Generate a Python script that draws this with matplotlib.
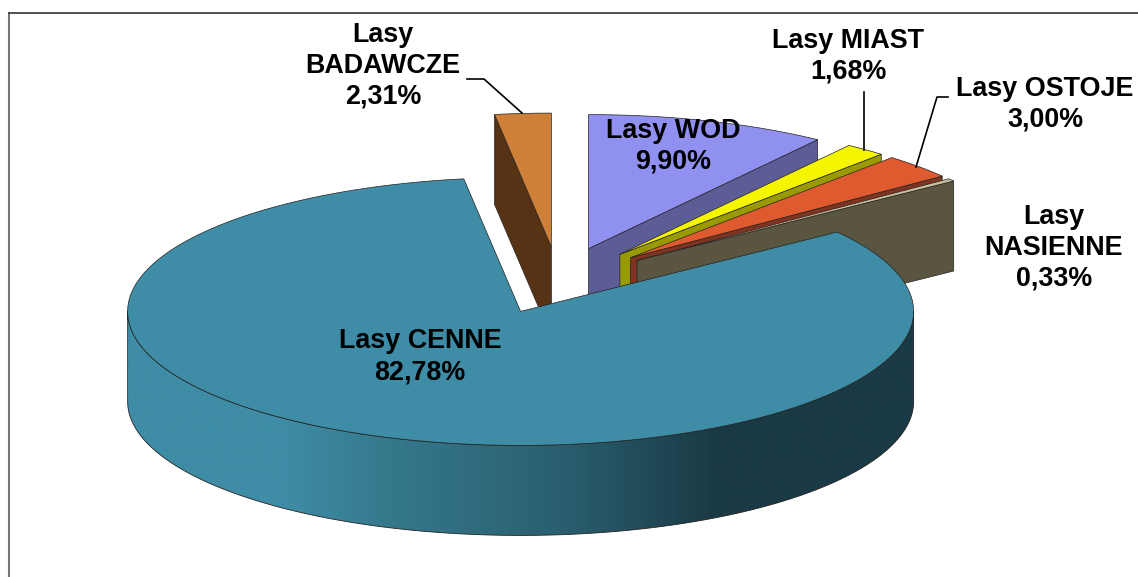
import numpy as np
import matplotlib
matplotlib.use('Agg')
import matplotlib.pyplot as plt
from matplotlib.colors import LinearSegmentedColormap
from matplotlib.patches import Polygon

# values, in drawing order (clockwise, big slice is painted last)
names = ['Lasy\nBADAWCZE', 'Lasy WOD', 'Lasy MIAST', 'Lasy OSTOJE', 'Lasy\nNASIENNE', 'Lasy CENNE']
values = [2.31, 9.90, 1.68, 3.00, 0.33, 82.78]
top_colors = ['#CE7F38', '#9090F0', '#F5F500', '#E05A30', '#C8BD9C', '#3E8CA5']
side_colors = ['#573316', '#5C5C96', '#999900', '#7F3320', '#5A5540', '#3E8CA5']

# pie geometry in pixels
cx, cy = 558.5, 280.5
rx, ry = 393, 134
depth = 90
explode = 0.25

plt.rcParams['font.family'] = ['Liberation Sans', 'DejaVu Sans']
fig = plt.figure(figsize=(11.38, 5.77), dpi=100)
ax = fig.add_axes([0, 0, 1, 1])
ax.set_xlim(0, 1138)
ax.set_ylim(577, 0)
ax.axis('off')


def point(angle, ox, oy):
    a = np.radians(angle)
    return ox + rx * np.sin(a), oy - ry * np.cos(a)


# frame
ax.plot([9, 9], [577, 13], color='#777777', lw=1.5)
ax.plot([9, 1138], [13, 13], color='#333333', lw=1.2)

edge = '#222222'
# the first slice ends exactly at the top of the pie
start = -values[0] / sum(values) * 360
for i in range(len(values)):
    sweep = values[i] / sum(values) * 360
    end = start + sweep
    mid = np.radians(start + sweep / 2)
    ox = cx + explode * rx * np.sin(mid)
    oy = cy - explode * ry * np.cos(mid)
    t = np.linspace(start, end, 200)
    arc_x, arc_y = point(t, ox, oy)

    if i == len(values) - 1:
        # round side of the big slice, with its gradient
        t2 = np.linspace(90, 270, 200)
        sx, sy = point(t2, ox, oy)
        px = np.r_[sx, sx[::-1]]
        py = np.r_[sy, sy[::-1] + depth]
        side = Polygon(np.c_[px, py], closed=True, fc='none', ec=edge, lw=0.6, zorder=i + 2)
        ax.add_patch(side)
        cmap = LinearSegmentedColormap.from_list('side', [
            (0.0, '#1A3A45'), (0.25, '#1A3A45'), (0.45, '#2A5F70'),
            (0.68, '#367A8E'), (0.8, '#3E8CA5'), (1.0, '#3E8CA5')])
        im = ax.imshow(np.linspace(0, 1, 400).reshape(1, -1)[:, ::-1], cmap=cmap, aspect='auto',
                       extent=[sx.min(), sx.max(), 577, 0], zorder=i + 1.5)
        im.set_clip_path(side)
        ax.set_xlim(0, 1138)
        ax.set_ylim(577, 0)
    elif i == 0:
        # this slice shows the cut face on its left edge
        ax.add_patch(Polygon([(arc_x[0], arc_y[0]), (ox, oy), (ox, oy + depth), (arc_x[0], arc_y[0] + depth)],
                             closed=True, fc=side_colors[i], ec=edge, lw=0.5, zorder=i + 1))
    else:
        # the others show the cut face on their right edge
        ax.add_patch(Polygon([(arc_x[-1], arc_y[-1]), (ox, oy), (ox, oy + depth), (arc_x[-1], arc_y[-1] + depth)],
                             closed=True, fc=side_colors[i], ec=edge, lw=0.5, zorder=i + 1))

    ax.add_patch(Polygon(np.c_[np.r_[ox, arc_x], np.r_[oy, arc_y]], closed=True,
                         fc=top_colors[i], ec=edge, lw=0.5, zorder=i + 2))
    start = end

# labels
label_pos = [(383, 66), (673, 146), (848, 56), (1045, 104), (1054, 248), (420, 357)]
for i in range(len(values)):
    txt = names[i] + '\n' + f'{values[i]:.2f}'.replace('.', ',') + '%'
    ax.text(label_pos[i][0], label_pos[i][1], txt, ha='center', va='center', fontsize=19.4,
            fontweight='bold', color='black', linespacing=1.25, zorder=20)

# leader lines
ax.plot([467, 484, 522], [79, 79, 113], color='black', lw=1.2, zorder=19)
ax.plot([864, 864], [92, 150], color='black', lw=1.2, zorder=19)
ax.plot([948, 937, 916], [97, 97, 167], color='black', lw=1.2, zorder=19)

fig.savefig('out.png', dpi=100)
